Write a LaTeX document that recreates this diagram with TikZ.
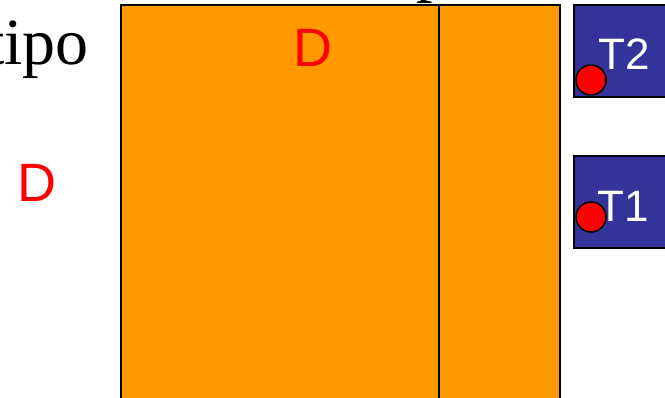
\documentclass[tikz,border=0pt]{standalone}
\usepackage{fontspec}
\setmainfont{Liberation Serif}
\newfontfamily\arialfont{Liberation Sans}
\definecolor{dorange}{HTML}{FF9900}
\definecolor{tblue}{HTML}{333399}

\begin{document}
\begin{tikzpicture}[x=1pt, y=-1pt,
  labelD/.style={text=red, inner sep=0, font=\arialfont\fontsize{54}{60}\selectfont},
  tlabel/.style={text=white, inner sep=0, font=\arialfont\fontsize{44}{50}\selectfont},
  tbox/.style={draw=black, line width=1.5pt, fill=tblue},
  dot/.style={draw=black, line width=1.5pt, fill=red}]
  \useasboundingbox (0,0) rectangle (665,398);
  \node[anchor=base east, inner sep=0, font=\fontsize{66}{70}\selectfont] (tipo) at (89,65) {tipo};
  \node[anchor=base west, inner sep=0, font=\fontsize{66}{70}\selectfont] (title) at (416,-10) {p};
  % the orange frame
  \draw[line width=1.5pt, fill=dorange] (121,5) rectangle (560,410);
  \draw[line width=1.5pt] (439,5) -- (439,410);
  \node[labelD] (dIn) at (313,48) {D};
  \node[labelD] (dOut) at (37,183) {D};
  % T boxes
  \draw[tbox] (574,5) rectangle (680,97);
  \draw[tbox] (574,156) rectangle (680,248);
  \node[tlabel] (t2) at (624,54) {T2};
  \node[tlabel] (t1) at (623,206) {T1};
  \draw[dot] (591,80) circle[radius=15pt];
  \draw[dot] (591,217) circle[radius=15pt];
\end{tikzpicture}
\end{document}
